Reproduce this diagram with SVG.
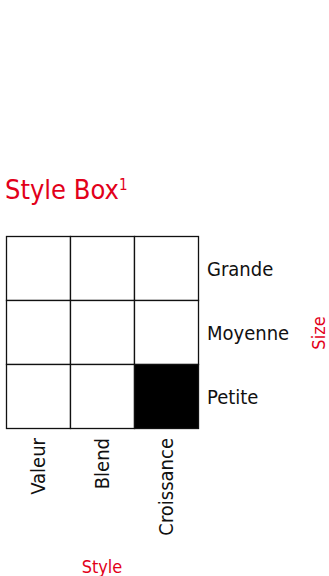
<svg xmlns="http://www.w3.org/2000/svg" width="329" height="576" viewBox="0 0 329 576">
<style>
.t{font-family:"DejaVu Sans Condensed","DejaVu Sans",sans-serif;}
.red{fill:#E2001A;}
.lab{font-size:20px;fill:#111;}
.cell{fill:#fff;stroke:#111;stroke-width:1.3;}
.cell.on{fill:#000;}
</style>
<rect width="329" height="576" fill="#fff"/>
<g id="title">
<text class="t red" x="5" y="199" font-size="27">Style Box</text>
<text class="t red" x="119" y="190" font-size="15">1</text>
</g>
<g id="grid">
<rect id="cell-grande-valeur" class="cell" x="6.5" y="236.5" width="64" height="64"/>
<rect id="cell-grande-blend" class="cell" x="70.5" y="236.5" width="64" height="64"/>
<rect id="cell-grande-croissance" class="cell" x="134.5" y="236.5" width="64" height="64"/>
<rect id="cell-moyenne-valeur" class="cell" x="6.5" y="300.5" width="64" height="64"/>
<rect id="cell-moyenne-blend" class="cell" x="70.5" y="300.5" width="64" height="64"/>
<rect id="cell-moyenne-croissance" class="cell" x="134.5" y="300.5" width="64" height="64"/>
<rect id="cell-petite-valeur" class="cell" x="6.5" y="364.5" width="64" height="64"/>
<rect id="cell-petite-blend" class="cell" x="70.5" y="364.5" width="64" height="64"/>
<rect id="cell-petite-croissance" class="cell on" x="134.5" y="364.5" width="64" height="64"/>
</g>
<g id="row-labels">
<text class="t lab" x="207" y="275.5">Grande</text>
<text class="t lab" x="207" y="339.5">Moyenne</text>
<text class="t lab" x="207" y="403.5">Petite</text>
</g>
<g id="col-labels">
<text class="t lab" text-anchor="end" transform="translate(45,438) rotate(-90)">Valeur</text>
<text class="t lab" text-anchor="end" transform="translate(109,438) rotate(-90)">Blend</text>
<text class="t lab" text-anchor="end" transform="translate(173,438) rotate(-90)">Croissance</text>
</g>
<g id="axis-labels">
<text class="t red" font-size="18" text-anchor="middle" x="102" y="573">Style</text>
<text class="t red" font-size="18" text-anchor="middle" transform="translate(325,333) rotate(-90)">Size</text>
</g>
</svg>
